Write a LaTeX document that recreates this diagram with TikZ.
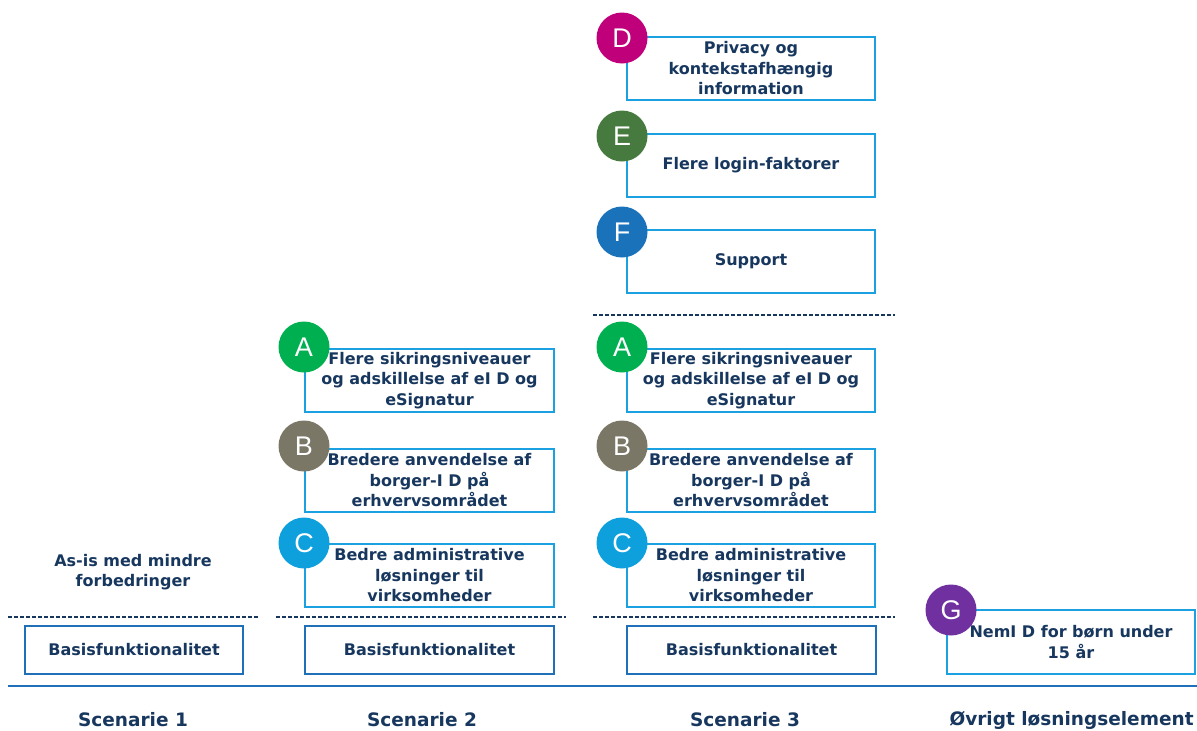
\documentclass[tikz,border=0pt]{standalone}
\usepackage{fontspec}
\setmainfont{DejaVu Sans}
\newfontfamily\lettfont{Liberation Sans}
\definecolor{navy}{HTML}{17375E}
\definecolor{cyanline}{HTML}{1BA1E2}
\definecolor{basisline}{HTML}{1F70B8}
\definecolor{cD}{HTML}{C0007A}
\definecolor{cE}{HTML}{477A3E}
\definecolor{cF}{HTML}{1A72BB}
\definecolor{cA}{HTML}{00B050}
\definecolor{cB}{HTML}{7A7766}
\definecolor{cC}{HTML}{0EA0DC}
\definecolor{cG}{HTML}{7030A0}
\begin{document}
\begin{tikzpicture}[x=1pt,y=-1pt,
  txt/.style={text=navy,font=\fontsize{16}{20.5}\selectfont\bfseries,align=center},
  featbox/.style={draw=cyanline,line width=2pt,minimum width=248pt,minimum height=63pt,inner sep=0pt,anchor=north west,txt},
  basisbox/.style={draw=basisline,line width=2pt,minimum height=48pt,inner sep=0pt,anchor=north west,txt},
  badge/.style={circle,fill=#1,minimum size=51pt,inner sep=0pt,text=white,font=\lettfont\fontsize{27}{27}\selectfont},
  sep/.style={draw=navy,dash pattern=on 4pt off 2pt,line width=1.3pt},
  scen/.style={text=navy,font=\fontsize{18.5}{22}\selectfont\bfseries}]
\useasboundingbox (0,0) rectangle (1197,731);
\fill[white] (0,0) rectangle (1197,731);

% scenario 3 extra features
\node[featbox] (boxD) at (626,36) {Privacy og\\kontekstafhængig\\information};
\node[badge=cD] (bD) at (622,38) {D};
\node[featbox] (boxE) at (626,133) {Flere login-faktorer};
\node[badge=cE] (bE) at (622,136) {E};
\node[featbox] (boxF) at (626,229) {Support};
\node[badge=cF] (bF) at (622,232) {F};
\coordinate (s3a) at (593,315);
\coordinate (s3b) at (895,315);
\draw[sep] (s3a) -- (s3b);

% scenario 2 features
\node[featbox,minimum width=249pt] (boxA2) at (304,348) {Flere sikringsniveauer\\og adskillelse af eI D og\\eSignatur};
\node[badge=cA] (bA2) at (304,347) {A};
\node[featbox,minimum width=249pt] (boxB2) at (304,448) {Bredere anvendelse af\\borger-I D på\\erhvervsområdet};
\node[badge=cB] (bB2) at (304,446) {B};
\node[featbox,minimum width=249pt] (boxC2) at (304,543) {Bedre administrative\\løsninger til\\virksomheder};
\node[badge=cC] (bC2) at (304,543) {C};

% scenario 3 shared features
\node[featbox] (boxA3) at (626,348) {Flere sikringsniveauer\\og adskillelse af eI D og\\eSignatur};
\node[badge=cA] (bA3) at (622,347) {A};
\node[featbox] (boxB3) at (626,448) {Bredere anvendelse af\\borger-I D på\\erhvervsområdet};
\node[badge=cB] (bB3) at (622,446) {B};
\node[featbox] (boxC3) at (626,543) {Bedre administrative\\løsninger til\\virksomheder};
\node[badge=cC] (bC3) at (622,543) {C};

% scenario 1 description
\node[txt] (asis) at (133,572) {As-is med mindre\\forbedringer};

% dashed separators above the basis level
\coordinate (s1a) at (8,617);
\coordinate (s1b) at (258,617);
\coordinate (s2a) at (276,617);
\coordinate (s2b) at (566,617);
\coordinate (s4a) at (593,617);
\coordinate (s4b) at (895,617);
\draw[sep] (s1a) -- (s1b);
\draw[sep] (s2a) -- (s2b);
\draw[sep] (s4a) -- (s4b);

% basis functionality
\node[basisbox,minimum width=218pt] (basis1) at (24,625) {Basisfunktionalitet};
\node[basisbox,minimum width=249pt] (basis2) at (304,625) {Basisfunktionalitet};
\node[basisbox,minimum width=249pt] (basis3) at (626,625) {Basisfunktionalitet};

% other solution element
\node[featbox,minimum width=248pt,minimum height=64pt] (boxG) at (946,609) {NemI D for børn under\\15 år};
\node[badge=cG] (bG) at (951,610) {G};

% baseline
\coordinate (baseL) at (8,686);
\coordinate (baseR) at (1197,686);
\draw[basisline,line width=1.8pt] (baseL) -- (baseR);

% column titles
\node[scen] (t1) at (133,720) {Scenarie 1};
\node[scen] (t2) at (422,720) {Scenarie 2};
\node[scen] (t3) at (745,720) {Scenarie 3};
\node[scen,anchor=west] (t4) at (946,720) {Øvrigt løsningselement};
\end{tikzpicture}
\end{document}
